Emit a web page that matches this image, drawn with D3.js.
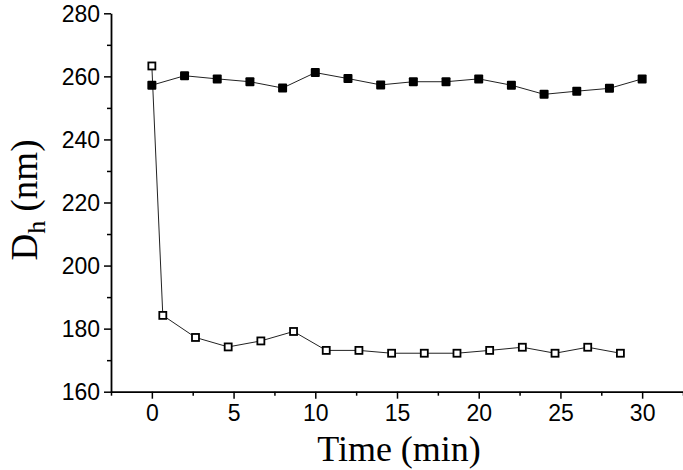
<!DOCTYPE html>
<html>
<head>
<meta charset="utf-8">
<script src="https://cdn.jsdelivr.net/npm/d3@7.9.0/dist/d3.min.js"></script>
<style>
  body { margin: 0; background: #fff; }
  svg { display: block; }
</style>
</head>
<body>
<svg width="683" height="470"></svg>
<script>
// filled squares
let timeA = [0, 2, 4, 6, 8, 10, 12, 14, 16, 18, 20, 22, 24, 26, 28, 30];
let dhA = [257.2, 260.2, 259.2, 258.3, 256.3, 261.2, 259.3, 257.3, 258.3, 258.3, 259.2, 257.2, 254.3, 255.3, 256.2, 259.2];

// open squares
let timeB = [0, 0.67, 2.67, 4.67, 6.67, 8.67, 10.67, 12.67, 14.67, 16.67, 18.67, 20.67, 22.67, 24.67, 26.67, 28.67];
let dhB = [263.3, 184.2, 177.2, 174.2, 176.1, 179.1, 173.1, 173.1, 172.2, 172.2, 172.2, 173.1, 174.1, 172.2, 174.1, 172.2];

let xTicks = [0, 5, 10, 15, 20, 25, 30];
let yTicks = [160, 180, 200, 220, 240, 260, 280];

let svg = d3.select('svg');

let x = d3.scaleLinear().domain([-2.5, 32.5]).range([111, 683]);
let y = d3.scaleLinear().domain([160, 280]).range([391.7, 13.3]);

let minorX = d3.range(-2.5, 32.6, 2.5).filter(d => !xTicks.includes(d));
let minorY = d3.range(170, 280, 20);

// minor ticks first, then major axes
svg.append('g')
  .attr('transform', 'translate(0,391.7)')
  .call(d3.axisBottom(x).tickValues(minorX).tickSize(4).tickFormat(''))
  .call(g => g.select('.domain').remove());
svg.append('g')
  .attr('transform', 'translate(111,0)')
  .call(d3.axisLeft(y).tickValues(minorY).tickSize(4).tickFormat(''))
  .call(g => g.select('.domain').remove());

let xAxis = svg.append('g')
  .attr('transform', 'translate(0,391.7)')
  .call(d3.axisBottom(x).tickValues(xTicks).tickSize(7).tickSizeOuter(0).tickPadding(6));
let yAxis = svg.append('g')
  .attr('transform', 'translate(111,0)')
  .call(d3.axisLeft(y).tickValues(yTicks).tickSize(7).tickSizeOuter(0).tickPadding(4));

svg.selectAll('.tick line').attr('stroke', '#000').attr('stroke-width', 1.5);
svg.selectAll('.domain').attr('stroke', '#000').attr('stroke-width', 1.8);
svg.selectAll('.tick text')
  .attr('fill', '#000')
  .style('font-family', '"Liberation Sans", Arial, sans-serif')
  .style('font-size', '23px');
yAxis.selectAll('.tick text').attr('dy', '0.36em');

let line = d3.line().x(d => x(d[0])).y(d => y(d[1]));

let ptsA = timeA.map((t, i) => [t, dhA[i]]);
let ptsB = timeB.map((t, i) => [t, dhB[i]]);

svg.append('path')
  .attr('d', line(ptsA))
  .attr('fill', 'none')
  .attr('stroke', '#222')
  .attr('stroke-width', 1);
svg.append('path')
  .attr('d', line(ptsB))
  .attr('fill', 'none')
  .attr('stroke', '#222')
  .attr('stroke-width', 1);

svg.selectAll('.markA')
  .data(ptsA)
  .enter()
  .append('rect')
  .attr('x', d => x(d[0]) - 4.5)
  .attr('y', d => y(d[1]) - 4.5)
  .attr('width', 9)
  .attr('height', 9)
  .attr('rx', 1)
  .attr('fill', '#000');

svg.selectAll('.markB')
  .data(ptsB)
  .enter()
  .append('rect')
  .attr('x', d => x(d[0]) - 3.5)
  .attr('y', d => y(d[1]) - 3.5)
  .attr('width', 7)
  .attr('height', 7)
  .attr('fill', '#fff')
  .attr('stroke', '#000')
  .attr('stroke-width', 1.8);

// axis titles
svg.append('text')
  .attr('x', 399)
  .attr('y', 461)
  .attr('text-anchor', 'middle')
  .style('font-family', '"Liberation Serif", "Times New Roman", serif')
  .style('font-size', '36px')
  .text('Time (min)');

let yTitle = svg.append('text')
  .attr('transform', 'translate(37,200) rotate(-90)')
  .attr('text-anchor', 'middle')
  .style('font-family', '"Liberation Serif", "Times New Roman", serif')
  .style('font-size', '37px');
yTitle.append('tspan').text('D');
yTitle.append('tspan').attr('dy', 8).style('font-size', '26px').text('h');
yTitle.append('tspan').attr('dy', -8).text(' (nm)');
</script>
</body>
</html>
